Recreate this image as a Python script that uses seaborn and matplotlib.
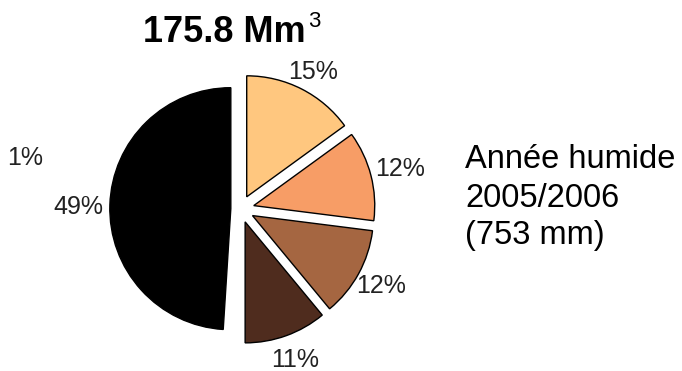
import matplotlib
matplotlib.use("Agg")
import matplotlib.pyplot as plt
import seaborn as sns

# Share of the annual volume per component (percent)
shares = [15, 12, 12, 11, 1, 49]
slice_colors = ["#FFC77F", "#F79D66", "#A56641", "#4F2C1E", "#FFFFFF", "#000000"]

total_volume = 175.8          # Mm3
volume_unit = "Mm"
volume_exponent = "3"
year_lines = ["Année humide", "2005/2006", "(753 mm)"]

sns.set_style("white")
plt.rcParams["font.family"] = ["Liberation Sans", "DejaVu Sans"]

W, H = 682, 371
fig = plt.figure(figsize=(W / 100, H / 100), dpi=100)
ax = fig.add_axes([0, 0, 1, 1])

# pie geometry in pixels: centre and radius
cx, cy, R = 240.5, 209.0, 121.0

wedges, texts, autotexts = ax.pie(
    shares,
    colors=slice_colors,
    startangle=90,
    counterclock=False,
    explode=[0.113, 0.113, 0.113, 0.113, 0.0, 0.08],
    radius=1.0,
    autopct=lambda p: f"{p:.0f}%",
    pctdistance=1.21,
    wedgeprops=dict(edgecolor="black", linewidth=1.0),
    textprops=dict(fontsize=18, color="#222222"),
)

# the smallest share is drawn without fill; its label sits on the left
small = shares.index(min(shares))
wedges[small].set_edgecolor("none")
autotexts[small].set_position(((43 - cx) / R, (cy - 158) / R))
autotexts[small].set_ha("right")

# small radial nudges of a few labels
x0, y0 = autotexts[0].get_position()
autotexts[0].set_position((x0, y0 - 0.05))
x1, y1 = autotexts[1].get_position()
autotexts[1].set_position((x1 + 0.04, y1))
big = shares.index(max(shares))
xb, yb = autotexts[big].get_position()
autotexts[big].set_position((xb - 0.05, yb - 0.02))

ax.set_xlim((0 - cx) / R, (W - cx) / R)
ax.set_ylim((cy - H) / R, cy / R)
ax.set_aspect("auto")
ax.axis("off")

# title with superscript unit
fig.text(143 / W, 1 - 42 / H, f"{total_volume:.1f} {volume_unit}",
         fontsize=26, fontweight="bold", ha="left", va="baseline", color="black")
fig.text(308 / W, 1 - 27 / H, volume_exponent,
         fontsize=16, ha="left", va="baseline", color="black")

# side annotation
for line, base in zip(year_lines, [168, 207, 244]):
    fig.text(465 / W, 1 - base / H, line, fontsize=23.5,
             ha="left", va="baseline", color="black")

fig.savefig("out.png", dpi=100)
